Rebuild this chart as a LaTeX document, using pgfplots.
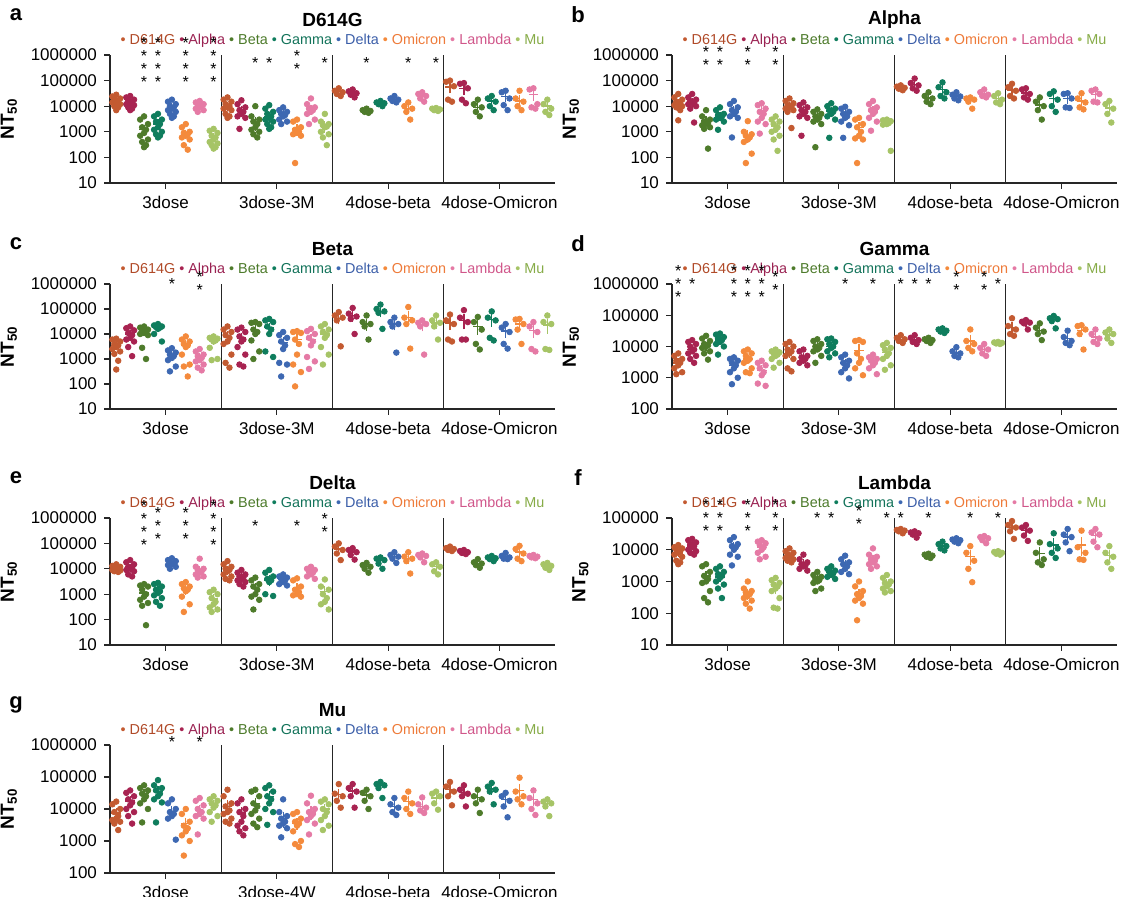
\documentclass[border=0pt]{standalone}
\usepackage{fontspec}
\setmainfont{Liberation Sans}
\usepackage{pgfplots}
\usepackage{pgfplotstable}
\pgfplotsset{compat=1.18}

% variant colours (dots) and legend text colours
\definecolor{v0}{HTML}{C35A31}
\definecolor{v1}{HTML}{A82351}
\definecolor{v2}{HTML}{4E7B2B}
\definecolor{v3}{HTML}{0F7D5D}
\definecolor{v4}{HTML}{3D68B2}
\definecolor{v5}{HTML}{F48A3C}
\definecolor{v6}{HTML}{E57AA5}
\definecolor{v7}{HTML}{A6C466}
\definecolor{t0}{HTML}{B04A28}
\definecolor{t1}{HTML}{9A2252}
\definecolor{t2}{HTML}{4C7A2A}
\definecolor{t3}{HTML}{13735A}
\definecolor{t4}{HTML}{3A5DA8}
\definecolor{t5}{HTML}{EE7B3A}
\definecolor{t6}{HTML}{D0568A}
\definecolor{t7}{HTML}{86AB47}

% axis mode and limits are given in each axis itself, not in this style
\pgfplotsset{
  ntpanel/.style={
    scale only axis, width=222.5pt, clip=false,
    axis lines*=left, axis line style={line width=0.6pt, black!85},
    tick align=outside, major tick length=3pt,
    tick style={line width=0.6pt, black!85},
    xtick={4,12,20,28}, yminorticks=false,
    extra x ticks={8,16,24}, extra x tick labels={},
    extra x tick style={grid=major, major tick length=0pt},
    major grid style={line width=0.6pt, black!85},
    tick label style={font=\fontsize{8.5}{9}\selectfont},
    ylabel={\bfseries NT\textsubscript{50}},
    ylabel style={font=\fontsize{9.5}{10}\selectfont},
  },
  ntdots/.style={scatter, only marks, mark=*, mark size=1.4pt,
    point meta=explicit symbolic,
    scatter/classes={0={draw=v0,fill=v0},1={draw=v1,fill=v1},2={draw=v2,fill=v2},
      3={draw=v3,fill=v3},4={draw=v4,fill=v4},5={draw=v5,fill=v5},
      6={draw=v6,fill=v6},7={draw=v7,fill=v7}}},
  ntmean/.style={only marks, mark=-, mark size=2.4pt, mark options={line width=0.7pt},
    error bars/y dir=both, error bars/y explicit,
    error bars/error mark options={mark size=1.2pt, line width=0.6pt},
    error bars/error bar style={line width=0.6pt}},
}

\tikzset{sig/.style={font=\fontsize{8}{4.2}\selectfont, align=center, inner sep=0pt}}
\def\sa{*}
\def\sb{*\\*}
\def\sc{*\\*\\*}
\def\sd{*\\*\\*\\*}
\newcommand\sig[3]{\node[sig] at (axis cs:#1,#2) {#3};}

\newcommand\lgd{\textcolor{v0}{\textbullet}~\textcolor{t0}{D614G}
  \textcolor{v1}{\textbullet}~\textcolor{t1}{Alpha}
  \textcolor{v2}{\textbullet}~\textcolor{t2}{Beta}
  \textcolor{v3}{\textbullet}~\textcolor{t3}{Gamma}
  \textcolor{v4}{\textbullet}~\textcolor{t4}{Delta}
  \textcolor{v5}{\textbullet}~\textcolor{t5}{Omicron}
  \textcolor{v6}{\textbullet}~\textcolor{t6}{Lambda}
  \textcolor{v7}{\textbullet}~\textcolor{t7}{Mu}}

\newcommand\deco[2]{%
  \node[font=\bfseries\fontsize{11}{12}\selectfont, xshift=-47pt, yshift=20pt] at (rel axis cs:0,1) {#1};
  \node[font=\bfseries\fontsize{9.5}{10}\selectfont, yshift=17.5pt] at (rel axis cs:0.5,1) {#2};
  \node[font=\fontsize{7.2}{8}\selectfont, yshift=7pt] at (rel axis cs:0.5,1) {\lgd};
}

% one column of values, shifted sideways so the dots of a group spread out
\newcommand\dotcol[3]{%
  \addplot[ntdots] table[x expr={8*\thisrow{g}+\thisrow{v}+0.45+(#3)}, y=p#2, meta=v] {#1};}
% mean and SEM of one variant
\newcommand\meancol[2]{%
  \addplot[color=v#2, ntmean, restrict expr to domain={\thisrow{v}}{#2:#2}]
    table[x expr={8*\thisrow{g}+\thisrow{v}+0.45}, y=m, y error=s] {#1};}

\newcommand\drawpanel[1]{%
  \dotcol{#1}{1}{0}\dotcol{#1}{2}{-0.28}\dotcol{#1}{3}{0.28}\dotcol{#1}{4}{-0.14}
  \dotcol{#1}{5}{0.14}\dotcol{#1}{6}{0}\dotcol{#1}{7}{-0.28}\dotcol{#1}{8}{0.28}
  \dotcol{#1}{9}{-0.14}\dotcol{#1}{10}{0.14}\dotcol{#1}{11}{0}
  \meancol{#1}{0}\meancol{#1}{1}\meancol{#1}{2}\meancol{#1}{3}
  \meancol{#1}{4}\meancol{#1}{5}\meancol{#1}{6}\meancol{#1}{7}
}

% g = group (0 3dose, 1 3dose-3M/4W, 2 4dose-beta, 3 4dose-Omicron), v = variant
% m = mean, s = SEM, p1..p11 = individual NT50 values
\pgfplotstableread{
g v m s p1 p2 p3 p4 p5 p6 p7 p8 p9 p10 p11
0 0 16000 1800 28000 24000 20000 18000 16000 15000 14000 12000 10000 9000 7000
0 1 14000 1600 25000 22000 18000 16000 14000 13000 12000 11000 9000 8000 7000
0 2 1200 350 4000 3000 2000 1500 1200 900 700 500 400 300 250
0 3 2000 450 5000 4000 3000 2500 2000 1500 1200 1000 800 700 600
0 4 9000 1300 18000 15000 12000 10000 9000 8000 7000 6000 5000 4000 3500
0 5 800 180 2000 1500 1000 900 800 700 600 500 300 200 nan
0 6 10000 1000 16000 14000 12000 11000 10000 9000 8000 7000 6000 nan nan
0 7 600 110 1300 1100 900 700 600 500 400 350 300 250 220
1 0 10000 1700 22000 18000 15000 12000 10000 9000 8000 7000 5000 4000 3500
1 1 6500 1500 17000 12000 9000 7000 6000 5000 4000 3500 1300 nan nan
1 2 2200 850 10000 4000 3000 2500 2000 1500 1200 1000 800 600 nan
1 3 3800 900 11000 8000 6000 5000 4000 3500 3000 2500 2000 1500 1300
1 4 5000 800 9000 7000 6000 5000 4500 4000 3000 2500 2000 nan nan
1 5 1300 350 3000 2500 1500 1200 1000 900 800 700 60 nan nan
1 6 7500 1800 20000 12000 9000 8000 7000 6000 5000 3000 2000 nan nan
1 7 1600 450 5000 2500 2000 1800 1600 1500 1000 800 600 300 nan
2 0 38000 5000 50000 40000 35000 30000 25000 nan nan nan nan nan nan
2 1 33000 4000 45000 38000 32000 28000 22000 nan nan nan nan nan nan
2 2 7000 450 8000 7000 6500 6000 5500 nan nan nan nan nan nan
2 3 13000 1000 16000 14000 13000 12000 10000 nan nan nan nan nan nan
2 4 18000 2000 25000 20000 18000 16000 14000 nan nan nan nan nan nan
2 5 8000 1800 14000 10000 8000 6000 3000 nan nan nan nan nan nan
2 6 25000 3500 35000 30000 25000 20000 15000 nan nan nan nan nan nan
2 7 7500 350 8500 8000 7500 7000 6500 nan nan nan nan nan nan
3 0 57000 18000 100000 90000 60000 18000 15000 nan nan nan nan nan nan
3 1 48000 14000 80000 75000 50000 18000 13000 nan nan nan nan nan nan
3 2 9000 2500 18000 12000 9000 6000 4000 nan nan nan nan nan nan
3 3 16000 3300 25000 20000 15000 10000 7000 nan nan nan nan nan nan
3 4 24000 6500 40000 35000 20000 11000 7000 nan nan nan nan nan nan
3 5 16000 5800 40000 20000 15000 10000 7000 nan nan nan nan nan nan
3 6 28000 8500 50000 45000 12000 9000 8000 nan nan nan nan nan nan
3 7 10000 2400 18000 12000 8000 6000 4500 nan nan nan nan nan nan
}\tblA

\pgfplotstableread{
g v m s p1 p2 p3 p4 p5 p6 p7 p8 p9 p10 p11
0 0 13000 2200 30000 22000 18000 15000 13000 12000 11000 10000 9000 7000 2800
0 1 14000 2300 30000 22000 18000 16000 14000 13000 12000 10000 8000 2300 nan
0 2 2600 600 7000 4000 3000 2500 2200 2000 1800 1500 1300 220 nan
0 3 4200 750 9000 7000 5000 4500 4000 3500 3000 2500 1200 nan nan
0 4 6500 1500 16000 12000 9000 7000 6000 5000 4000 3500 600 nan nan
0 5 700 260 2600 1000 800 700 600 500 400 140 60 nan nan
0 6 6500 1400 13000 11000 8000 6000 5000 3500 2500 2000 850 nan nan
0 7 1600 380 4000 3000 2500 2000 1500 1200 1000 700 500 180 nan
1 0 10000 1700 20000 16000 13000 11000 10000 9000 8000 7000 6000 1400 nan
1 1 6500 1400 14000 11000 9000 7000 6000 5000 4000 3500 700 nan nan
1 2 4000 800 7500 6000 5000 4000 3500 3000 2500 2000 250 nan nan
1 3 6500 1300 13000 10000 8000 7000 6000 5000 4000 3000 580 nan nan
1 4 5000 1000 9500 8000 6000 5000 4000 3500 2500 1800 580 nan nan
1 5 1500 400 3500 3000 2000 1500 1000 700 550 500 60 nan nan
1 6 6500 1600 16000 12000 9000 7000 6000 5000 3500 2500 1100 nan nan
1 7 2200 300 3000 2800 2600 2400 2200 2000 1900 180 nan nan nan
2 0 53000 4000 65000 58000 52000 48000 42000 nan nan nan nan nan nan
2 1 70000 15000 120000 80000 65000 50000 40000 nan nan nan nan nan nan
2 2 21000 4000 35000 25000 20000 15000 12000 nan nan nan nan nan nan
2 3 44000 12000 85000 55000 35000 25000 20000 nan nan nan nan nan nan
2 4 25000 3300 35000 28000 24000 20000 17000 nan nan nan nan nan nan
2 5 17000 2500 22000 20000 18000 15000 8000 nan nan nan nan nan nan
2 6 31000 4000 45000 35000 28000 25000 22000 nan nan nan nan nan nan
2 7 20000 3800 32000 25000 18000 14000 12000 nan nan nan nan nan nan
3 0 43000 10000 75000 55000 40000 25000 20000 nan nan nan nan nan nan
3 1 33000 6000 50000 45000 30000 22000 18000 nan nan nan nan nan nan
3 2 11000 3300 22000 15000 10000 7000 3000 nan nan nan nan nan nan
3 3 20000 5800 38000 30000 18000 10000 6000 nan nan nan nan nan nan
3 4 20000 4800 32000 30000 20000 9000 8500 nan nan nan nan nan nan
3 5 16000 4500 32000 20000 14000 9000 7500 nan nan nan nan nan nan
3 6 29000 6000 45000 40000 30000 15000 14000 nan nan nan nan nan nan
3 7 8500 2500 16000 12000 8000 5000 2300 nan nan nan nan nan nan
}\tblB

\pgfplotstableread{
g v m s p1 p2 p3 p4 p5 p6 p7 p8 p9 p10 p11
0 0 3500 600 6500 6000 5000 4000 3500 3000 2500 2000 1600 850 380
0 1 10000 1900 20000 17000 14000 11000 9000 7000 6000 5000 3000 1300 nan
0 2 12000 1800 20000 18000 15000 13000 12000 11000 10000 9000 2800 1000 nan
0 3 19000 2200 25000 22000 20000 19000 18000 16000 10000 5000 nan nan nan
0 4 1500 250 2700 2200 1800 1500 1300 1100 900 500 320 nan nan
0 5 3600 800 8000 6000 5000 4000 3500 3000 1500 600 500 200 nan
0 6 1200 220 2500 2000 1500 1300 1100 900 800 600 450 350 nan
0 7 5500 800 8000 7000 6500 6000 5500 5000 2800 1000 900 nan nan
1 0 8000 2200 20000 15000 12000 9000 7000 5000 4000 1500 700 450 nan
1 1 7000 2000 18000 15000 12000 8000 6000 5000 3000 1500 600 500 nan
1 2 14000 3600 30000 28000 25000 15000 12000 10000 5500 2000 1000 nan nan
1 3 18000 5000 40000 35000 30000 20000 15000 10000 2000 1200 nan nan nan
1 4 4500 1400 12000 9000 7000 5000 3500 2500 700 600 200 nan nan
1 5 6000 1800 13000 12000 11000 6000 4000 1500 600 300 80 nan nan
1 6 6000 1800 16000 13000 10000 7000 5000 3500 1200 800 400 nan nan
1 7 10000 2800 25000 20000 15000 12000 9000 7000 3000 1500 600 nan nan
2 0 42000 12000 75000 55000 45000 35000 3200 nan nan nan nan nan nan
2 1 55000 16000 110000 65000 50000 40000 10000 nan nan nan nan nan nan
2 2 25000 8000 55000 30000 25000 20000 6000 nan nan nan nan nan nan
2 3 80000 22000 150000 100000 80000 70000 16000 nan nan nan nan nan nan
2 4 25000 7500 45000 30000 25000 20000 1800 nan nan nan nan nan nan
2 5 45000 20000 120000 45000 35000 25000 2600 nan nan nan nan nan nan
2 6 22000 6000 35000 28000 25000 20000 1500 nan nan nan nan nan nan
2 7 28000 8000 55000 35000 28000 20000 6000 nan nan nan nan nan nan
3 0 28000 10000 60000 35000 25000 6000 5000 nan nan nan nan nan nan
3 1 35000 16000 90000 45000 30000 6000 6000 nan nan nan nan nan nan
3 2 20000 8500 48000 30000 15000 4000 2400 nan nan nan nan nan nan
3 3 38000 14000 80000 45000 35000 7000 5500 nan nan nan nan nan nan
3 4 13000 4300 25000 18000 12000 4000 2600 nan nan nan nan nan nan
3 5 25000 6500 40000 38000 25000 15000 4000 nan nan nan nan nan nan
3 6 14000 5500 30000 20000 12000 2500 2000 nan nan nan nan nan nan
3 7 23000 10000 55000 30000 25000 2500 2300 nan nan nan nan nan nan
}\tblC

\pgfplotstableread{
g v m s p1 p2 p3 p4 p5 p6 p7 p8 p9 p10 p11
0 0 3000 500 6000 5000 4000 3500 3000 2500 2000 1500 1300 nan nan
0 1 8000 1300 16000 14000 12000 10000 8000 7000 6000 5000 4000 3000 nan
0 2 10000 1600 22000 18000 15000 12000 11000 10000 9000 7000 6000 3800 nan
0 3 16000 2100 26000 24000 20000 18000 16000 14000 12000 10000 5500 nan nan
0 4 2500 420 4500 4000 3500 3000 2500 2000 1500 1000 620 nan nan
0 5 4000 700 8000 7000 6000 5000 4000 3500 3000 2000 1500 1400 nan
0 6 1700 400 3500 3000 2500 2000 1500 1200 650 550 nan nan nan
0 7 5500 600 8000 7000 6500 6000 5500 5000 4000 3000 2100 nan nan
1 0 6500 1300 14000 12000 10000 8000 7000 6000 5000 4000 2000 1600 nan
1 1 4500 700 8000 7000 5000 4500 4000 3500 3000 2500 nan nan nan
1 2 10000 1500 17000 15000 12000 10000 9000 8000 7000 5000 3000 nan nan
1 3 10000 1600 18000 17000 14000 12000 10000 9000 7000 6000 4500 nan nan
1 4 2800 550 5500 4500 3500 3000 2500 2000 1500 950 nan nan nan
1 5 7500 2300 16000 15000 14000 6000 4000 3000 2000 1200 nan nan nan
1 6 3500 500 5500 4500 4000 3500 3000 2500 2000 1300 nan nan nan
1 7 6500 1200 13000 11000 9000 8000 6000 5000 4000 2500 1800 nan nan
2 0 17000 1700 23000 19000 17000 15000 13000 nan nan nan nan nan nan
2 1 16000 2000 23000 19000 16000 14000 12000 nan nan nan nan nan nan
2 2 16000 1000 19000 17000 16000 15000 13000 nan nan nan nan nan nan
2 3 32000 2000 38000 35000 32000 30000 27000 nan nan nan nan nan nan
2 4 6500 900 9500 7000 6000 5000 4500 nan nan nan nan nan nan
2 5 15000 5000 35000 15000 12000 9000 7000 nan nan nan nan nan nan
2 6 8000 1200 12000 9000 8000 6000 5000 nan nan nan nan nan nan
2 7 13000 400 14000 13500 13000 12500 12000 nan nan nan nan nan nan
3 0 40000 10000 80000 45000 35000 25000 22000 nan nan nan nan nan nan
3 1 56000 5500 70000 62000 58000 55000 35000 nan nan nan nan nan nan
3 2 33000 6500 55000 40000 30000 25000 16000 nan nan nan nan nan nan
3 3 72000 9000 95000 80000 75000 65000 38000 nan nan nan nan nan nan
3 4 18000 3800 32000 20000 15000 13000 11000 nan nan nan nan nan nan
3 5 32000 7500 48000 45000 35000 25000 8000 nan nan nan nan nan nan
3 6 20000 4200 35000 25000 18000 14000 12000 nan nan nan nan nan nan
3 7 23000 3700 35000 28000 25000 18000 13000 nan nan nan nan nan nan
}\tblD

\pgfplotstableread{
g v m s p1 p2 p3 p4 p5 p6 p7 p8 p9 p10 p11
0 0 10500 800 15000 13000 12000 11000 10000 9500 9000 8500 8000 7500 nan
0 1 11000 1600 22000 18000 15000 12000 11000 10000 9000 8000 6000 5000 nan
0 2 1100 270 2500 2200 2000 1500 1000 800 600 450 350 60 nan
0 3 1400 260 2800 2500 2000 1500 1300 1100 900 700 500 350 nan
0 4 16000 1600 26000 22000 20000 18000 16000 15000 14000 12000 10000 nan nan
0 5 1500 300 3000 2500 2000 1700 1500 1300 800 400 200 nan nan
0 6 8500 2000 25000 12000 10000 9000 8000 7000 6000 5000 4500 nan nan
0 7 650 150 1500 1200 1000 700 500 400 300 250 200 nan nan
1 0 9000 1700 20000 15000 12000 10000 9000 8000 6000 5000 4000 3500 nan
1 1 4800 700 9000 7000 6000 5000 4500 4000 3500 3000 2500 2000 nan
1 2 1700 450 4500 3500 2500 2000 1500 1000 800 600 250 nan nan
1 3 3600 1000 9000 7000 5000 4000 3500 3000 1000 850 nan nan nan
1 4 4000 450 6000 5000 4500 4000 3500 3000 2500 2200 nan nan nan
1 5 1700 450 4200 3500 2000 1500 1200 1000 900 800 nan nan nan
1 6 7500 900 12000 10000 9000 8000 7000 6000 5000 4000 nan nan nan
1 7 1300 420 3800 2000 1500 1000 700 500 400 250 nan nan nan
2 0 60000 14000 100000 75000 55000 40000 22000 nan nan nan nan nan nan
2 1 45000 7000 65000 55000 45000 35000 23000 nan nan nan nan nan nan
2 2 12000 1700 17000 14000 12000 10000 7000 nan nan nan nan nan nan
2 3 21000 3300 28000 25000 22000 16000 10000 nan nan nan nan nan nan
2 4 30000 4600 45000 35000 30000 25000 17000 nan nan nan nan nan nan
2 5 25000 6300 45000 30000 25000 20000 6500 nan nan nan nan nan nan
2 6 30000 3600 40000 35000 32000 28000 18000 nan nan nan nan nan nan
2 7 12000 2200 18000 15000 12000 8000 6000 nan nan nan nan nan nan
3 0 60000 4500 75000 65000 60000 55000 50000 nan nan nan nan nan nan
3 1 46000 3000 55000 50000 45000 42000 38000 nan nan nan nan nan nan
3 2 16000 2100 24000 18000 16000 14000 11000 nan nan nan nan nan nan
3 3 26000 2000 32000 28000 26000 24000 20000 nan nan nan nan nan nan
3 4 30000 3300 42000 32000 28000 25000 24000 nan nan nan nan nan nan
3 5 45000 11000 80000 60000 40000 25000 20000 nan nan nan nan nan nan
3 6 30000 1500 35000 32000 30000 28000 26000 nan nan nan nan nan nan
3 7 13000 1400 17000 15000 13000 11000 9000 nan nan nan nan nan nan
}\tblE

\pgfplotstableread{
g v m s p1 p2 p3 p4 p5 p6 p7 p8 p9 p10 p11
0 0 8000 1000 14000 12000 11000 10000 9000 8000 7000 6000 4500 4000 3500
0 1 13000 1500 22000 20000 17000 15000 13000 12000 10000 9000 8000 7000 nan
0 2 1500 350 3500 3000 2000 1500 1200 1000 900 500 300 220 nan
0 3 1400 260 3000 2500 2000 1700 1500 1300 1000 800 600 300 nan
0 4 12000 2300 25000 20000 15000 13000 12000 10000 7000 6000 3200 nan nan
0 5 400 80 1000 600 500 450 400 350 300 250 200 140 nan
0 6 12000 1700 20000 18000 16000 14000 12000 10000 8000 6000 5000 nan nan
0 7 600 120 1300 1100 900 800 700 600 500 300 150 140 nan
1 0 6500 700 11000 9000 8000 7000 6500 6000 5500 5000 4500 4000 nan
1 1 3800 550 7000 5000 4000 3500 3200 3000 2500 2200 nan nan nan
1 2 1200 150 2000 1600 1400 1200 1100 1000 900 600 500 nan nan
1 3 2000 220 3000 2500 2200 2000 1800 1600 1400 1200 nan nan nan
1 4 3400 550 6500 5000 4000 3500 3000 2500 2000 1700 nan nan nan
1 5 400 100 1000 700 500 400 350 300 250 200 60 nan nan
1 6 5000 900 11000 7000 6000 5000 4500 4000 3500 3000 2500 nan nan
1 7 850 130 1600 1300 1000 900 800 700 600 500 450 nan nan
2 0 40000 2000 45000 42000 40000 38000 33000 nan nan nan nan nan nan
2 1 33000 2400 38000 35000 33000 30000 24000 nan nan nan nan nan nan
2 2 6500 350 7500 7000 6500 6000 5500 nan nan nan nan nan nan
2 3 13000 1500 18000 15000 13000 11000 9500 nan nan nan nan nan nan
2 4 20000 1200 23000 21000 20000 18000 16000 nan nan nan nan nan nan
2 5 6000 2200 13000 8000 4500 2500 950 nan nan nan nan nan nan
2 6 23000 2000 27000 25000 23000 20000 16000 nan nan nan nan nan nan
2 7 8000 350 9000 8500 8000 7500 7000 nan nan nan nan nan nan
3 0 50000 10000 80000 60000 50000 38000 22000 nan nan nan nan nan nan
3 1 40000 7500 60000 50000 40000 28000 19000 nan nan nan nan nan nan
3 2 7500 2600 17000 8000 5000 4000 3300 nan nan nan nan nan nan
3 3 14000 5000 33000 15000 11000 8000 5500 nan nan nan nan nan nan
3 4 25000 6000 45000 30000 25000 17000 9000 nan nan nan nan nan nan
3 5 14000 6500 40000 12000 8000 5000 4800 nan nan nan nan nan nan
3 6 28000 6000 45000 35000 30000 18000 12000 nan nan nan nan nan nan
3 7 6500 1800 13000 8000 6000 4000 2500 nan nan nan nan nan nan
}\tblF

\pgfplotstableread{
g v m s p1 p2 p3 p4 p5 p6 p7 p8 p9 p10 p11
0 0 7500 1500 17000 14000 10000 8000 6000 5000 4500 4000 3500 2200 nan
0 1 18000 3500 38000 32000 25000 20000 16000 13000 10000 8000 6000 3500 nan
0 2 30000 5000 55000 45000 38000 30000 25000 20000 15000 10000 3800 nan nan
0 3 35000 7500 80000 55000 45000 38000 30000 25000 20000 16000 3800 nan nan
0 4 8500 2000 20000 15000 10000 8000 7000 6000 5000 1100 nan nan nan
0 5 3500 1000 10000 7000 4000 3000 2500 2000 1500 1000 350 nan nan
0 6 9000 2100 22000 18000 13000 10000 8000 7000 6000 5000 1600 nan nan
0 7 14000 2300 25000 20000 18000 15000 13000 11000 8000 6000 4000 nan nan
1 0 12000 3500 40000 25000 15000 12000 9000 8000 7000 5000 4000 3500 nan
1 1 7500 1900 20000 15000 10000 8000 6000 4000 3000 2500 2000 1500 nan
1 2 15000 4000 40000 35000 25000 15000 12000 9000 7000 5000 3500 2700 nan
1 3 25000 5600 55000 45000 35000 25000 20000 15000 10000 8000 3200 nan nan
1 4 5000 1900 20000 8000 6000 5000 4000 3500 3000 2500 1300 nan nan
1 5 3500 800 8000 7000 5000 4000 3500 3000 2000 1000 800 650 nan
1 6 8000 2500 26000 15000 10000 8000 7000 6000 4500 3500 1600 nan nan
1 7 10000 2000 20000 17000 14000 10000 8000 6000 4500 3000 2200 nan nan
2 0 28000 8500 60000 30000 25000 18000 11000 nan nan nan nan nan nan
2 1 36000 8500 60000 45000 35000 25000 11000 nan nan nan nan nan nan
2 2 27000 5200 40000 32000 25000 18000 10000 nan nan nan nan nan nan
2 3 55000 8000 70000 60000 55000 45000 22000 nan nan nan nan nan nan
2 4 12000 2700 22000 14000 11000 8000 6500 nan nan nan nan nan nan
2 5 17000 5000 35000 22000 15000 10000 7000 nan nan nan nan nan nan
2 6 12000 2800 23000 14000 11000 9000 7500 nan nan nan nan nan nan
2 7 22000 5000 35000 30000 25000 15000 9500 nan nan nan nan nan nan
3 0 40000 10000 70000 50000 35000 25000 13000 nan nan nan nan nan nan
3 1 33000 7000 55000 40000 30000 25000 12000 nan nan nan nan nan nan
3 2 23000 5400 40000 25000 20000 15000 7500 nan nan nan nan nan nan
3 3 42000 8500 65000 50000 40000 35000 14000 nan nan nan nan nan nan
3 4 20000 4500 32000 25000 18000 12000 5500 nan nan nan nan nan nan
3 5 38000 14000 95000 35000 25000 20000 14000 nan nan nan nan nan nan
3 6 20000 5400 38000 22000 15000 10000 6500 nan nan nan nan nan nan
3 7 15000 2400 20000 17000 15000 12000 6000 nan nan nan nan nan nan
}\tblG

\begin{document}
\begin{tikzpicture}
\useasboundingbox (0,0) rectangle (565.5pt,448.5pt);

% a: D614G
\begin{axis}[ntpanel, ymode=log, xmin=0, xmax=32, ymin=10, ymax=1e6,
  ytick={10,100,1000,10000,100000,1000000}, yticklabels={10,100,1000,10000,100000,1000000},
  height=64pt, xticklabels={3dose,3dose-3M,4dose-beta,4dose-Omicron}, at={(55pt,357pt)}]
\drawpanel{\tblA}
\deco{a}{D614G}
\sig{2.45}{5e5}{\sd}\sig{3.45}{5e5}{\sd}\sig{5.45}{5e5}{\sd}\sig{7.45}{5e5}{\sd}
\sig{10.45}{5e5}{\sa}\sig{11.45}{5e5}{\sa}\sig{13.45}{5e5}{\sb}\sig{15.45}{5e5}{\sa}
\sig{18.45}{5e5}{\sa}\sig{21.45}{5e5}{\sa}\sig{23.45}{5e5}{\sa}
\end{axis}

% b: Alpha
\begin{axis}[ntpanel, ymode=log, xmin=0, xmax=32, ymin=10, ymax=1e6,
  ytick={10,100,1000,10000,100000,1000000}, yticklabels={10,100,1000,10000,100000,1000000},
  height=64pt, xticklabels={3dose,3dose-3M,4dose-beta,4dose-Omicron}, at={(336pt,357pt)}]
\drawpanel{\tblB}
\deco{b}{Alpha}
\sig{2.45}{7e5}{\sb}\sig{3.45}{7e5}{\sb}\sig{5.45}{7e5}{\sb}\sig{7.45}{7e5}{\sb}
\end{axis}

% c: Beta
\begin{axis}[ntpanel, ymode=log, xmin=0, xmax=32, ymin=10, ymax=1e6,
  ytick={10,100,1000,10000,100000,1000000}, yticklabels={10,100,1000,10000,100000,1000000},
  height=62.5pt, xticklabels={3dose,3dose-3M,4dose-beta,4dose-Omicron}, at={(55pt,244pt)}]
\drawpanel{\tblC}
\deco{c}{Beta}
\sig{4.45}{1e6}{\sa}\sig{6.45}{1e6}{\sb}
\end{axis}

% d: Gamma
\begin{axis}[ntpanel, ymode=log, xmin=0, xmax=32, ymin=100, ymax=1e6,
  ytick={100,1000,10000,100000,1000000}, yticklabels={100,1000,10000,100000,1000000},
  height=62.5pt, xticklabels={3dose,3dose-3M,4dose-beta,4dose-Omicron}, at={(336pt,244pt)}]
\drawpanel{\tblD}
\deco{d}{Gamma}
\sig{0.45}{1e6}{\sc}\sig{1.45}{1e6}{\sa}\sig{4.45}{1e6}{\sc}\sig{5.45}{1e6}{\sc}\sig{6.45}{1e6}{\sc}\sig{7.45}{1e6}{\sb}
\sig{12.45}{1e6}{\sa}\sig{14.45}{1e6}{\sa}
\sig{16.45}{1e6}{\sa}\sig{17.45}{1e6}{\sa}\sig{18.45}{1e6}{\sa}\sig{20.45}{1e6}{\sb}\sig{22.45}{1e6}{\sb}\sig{23.45}{1e6}{\sa}
\end{axis}

% e: Delta
\begin{axis}[ntpanel, ymode=log, xmin=0, xmax=32, ymin=10, ymax=1e6,
  ytick={10,100,1000,10000,100000,1000000}, yticklabels={10,100,1000,10000,100000,1000000},
  height=63.5pt, xticklabels={3dose,3dose-3M,4dose-beta,4dose-Omicron}, at={(55pt,126pt)}]
\drawpanel{\tblE}
\deco{e}{Delta}
\sig{2.45}{5e5}{\sd}\sig{3.45}{5e5}{\sc}\sig{5.45}{5e5}{\sc}\sig{7.45}{5e5}{\sd}
\sig{10.45}{5e5}{\sa}\sig{13.45}{5e5}{\sa}\sig{15.45}{5e5}{\sb}
\end{axis}

% f: Lambda
\begin{axis}[ntpanel, ymode=log, xmin=0, xmax=32, ymin=10, ymax=1e5,
  ytick={10,100,1000,10000,100000}, yticklabels={10,100,1000,10000,100000},
  height=63.5pt, xticklabels={3dose,3dose-3M,4dose-beta,4dose-Omicron}, at={(336pt,126pt)}]
\drawpanel{\tblF}
\deco{f}{Lambda}
\sig{2.45}{1e5}{\sc}\sig{3.45}{1e5}{\sc}\sig{5.45}{1e5}{\sc}\sig{7.45}{1e5}{\sc}
\sig{10.45}{1e5}{\sa}\sig{11.45}{1e5}{\sa}\sig{13.45}{1e5}{\sb}\sig{15.45}{1e5}{\sa}
\sig{16.45}{1e5}{\sa}\sig{18.45}{1e5}{\sa}\sig{21.45}{1e5}{\sa}\sig{23.45}{1e5}{\sa}
\end{axis}

% g: Mu
\begin{axis}[ntpanel, ymode=log, xmin=0, xmax=32, ymin=100, ymax=1e6,
  ytick={100,1000,10000,100000,1000000}, yticklabels={100,1000,10000,100000,1000000},
  height=64pt, xticklabels={3dose,3dose-4W,4dose-beta,4dose-Omicron}, at={(55pt,12pt)}]
\drawpanel{\tblG}
\deco{g}{Mu}
\sig{4.45}{1.2e6}{\sa}\sig{6.45}{1.2e6}{\sa}
\end{axis}
\end{tikzpicture}
\end{document}
